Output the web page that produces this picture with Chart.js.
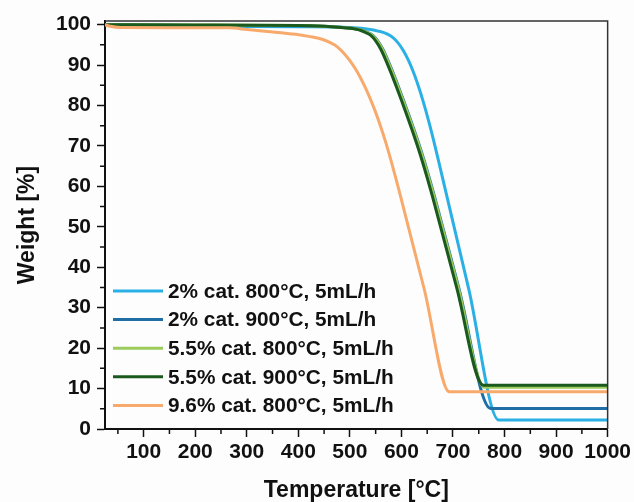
<!DOCTYPE html>
<html>
<head>
<meta charset="utf-8">
<script src="https://cdn.jsdelivr.net/npm/chart.js@4"></script>
<style>
    html, body { margin: 0; padding: 0; background: #fdfdfd; }
</style>
</head>
<body>
<canvas id="graficoTGA" width="634" height="502"></canvas>
<script>
// ------------ Dados ------------ //

var tempCat2_800 = [25, 200, 400, 500, 543, 553, 563, 573, 583, 593, 603, 613, 623, 633, 643, 653, 663, 673, 730.6, 789, 1000];
var pesoCat2_800 = [100, 99.6, 99.5, 99.3, 98.75, 98.45, 98.15, 97.65, 96.85, 95.55, 93.75, 91.35, 88.35, 84.75, 80.65, 76.05, 71.05, 65.75, 34.6, 2.2, 2.2];

var tempCat2_900 = [25, 200, 400, 504, 514, 524, 534, 544, 554, 564, 574, 584, 594, 604, 614, 624, 634, 644, 654, 664, 711, 773, 1000];
var pesoCat2_900 = [100, 99.8, 99.7, 99.1, 98.9, 98.6, 98.1, 97.4, 96.0, 93.9, 91.1, 88.0, 84.7, 81.3, 77.8, 74.2, 70.4, 66.4, 62.1, 57.6, 35.0, 5.1, 5.1];

var tempCat55_800 = [25, 200, 400, 503, 513, 523, 533, 543, 553, 563, 573, 583, 593, 603, 613, 623, 633, 643, 653, 663, 710, 761, 1000];
var pesoCat55_800 = [100, 99.9, 99.8, 99.1, 98.9, 98.6, 98.1, 97.4, 96.0, 93.9, 91.1, 88.0, 84.7, 81.3, 77.8, 74.2, 70.4, 66.4, 62.1, 57.6, 35.0, 10.3, 10.3];

var tempCat55_900 = [25, 200, 400, 500, 510, 520, 530, 540, 550, 560, 570, 580, 590, 600, 610, 620, 630, 640, 650, 660, 707, 759, 1000];
var pesoCat55_900 = [100, 99.9, 99.8, 99.1, 98.9, 98.6, 98.1, 97.4, 96.0, 93.9, 91.1, 88.0, 84.7, 81.3, 77.8, 74.2, 70.4, 66.4, 62.1, 57.6, 35.0, 10.8, 10.8];

var tempCat96_800 = [25, 35, 55, 150, 266, 300, 330, 395, 420, 446, 460, 470, 480, 490, 500, 510, 520, 530, 540, 550, 560, 570, 580, 590, 600, 644.4, 693, 1000];
var pesoCat96_800 = [100, 99.6, 99.3, 99.25, 99.2, 98.8, 98.4, 97.6, 97.1, 96.4, 95.7, 95.0, 94.0, 92.7, 91.1, 89.2, 87.0, 84.4, 81.5, 78.3, 74.7, 70.7, 66.3, 61.6, 56.7, 34.5, 9.2, 9.2];

var legendas = ['2% cat. 800°C, 5mL/h', '2% cat. 900°C, 5mL/h', '5.5% cat. 800°C, 5mL/h', '5.5% cat. 900°C, 5mL/h', '9.6% cat. 800°C, 5mL/h'];
var cores = ['#2bb0e6', '#1f6fa6', '#9dcb5c', '#1b5a1f', '#f7aa6c'];

var ticksX = [100, 200, 300, 400, 500, 600, 700, 800, 900, 1000];
var minorX = [50, 150, 250, 350, 450, 550, 650, 750, 850, 950];
var ticksY = [0, 10, 20, 30, 40, 50, 60, 70, 80, 90, 100];
var minorY = [5, 15, 25, 35, 45, 55, 65, 75, 85, 95];

// ------------ Montagem das séries ------------ //

function pares(xs, ys) {
    return xs.map(function (x, i) { return { x: x, y: ys[i] }; });
}

var series = [
    pares(tempCat2_800, pesoCat2_800),
    pares(tempCat2_900, pesoCat2_900),
    pares(tempCat55_800, pesoCat55_800),
    pares(tempCat55_900, pesoCat55_900),
    pares(tempCat96_800, pesoCat96_800)
];

var datasets = series.map(function (d, i) {
    return {
        label: legendas[i],
        data: d,
        borderColor: cores[i],
        backgroundColor: cores[i],
        borderWidth: 3,
        pointRadius: 0,
        cubicInterpolationMode: 'monotone',
        order: series.length - i
    };
});

var fonte = "'Liberation Sans', Arial, sans-serif";

// ------------ Plugins: moldura, ticks menores e legenda ------------ //

var molduraPlugin = {
    id: 'moldura',
    afterDraw: function (chart) {
        var ctx = chart.ctx, a = chart.chartArea;
        var sx = chart.scales.x, sy = chart.scales.y;
        ctx.save();
        ctx.strokeStyle = '#333';
        ctx.lineWidth = 1.5;
        ctx.beginPath();
        ctx.moveTo(a.left, a.top);
        ctx.lineTo(a.right, a.top);
        ctx.lineTo(a.right, a.bottom);
        ctx.stroke();
        ctx.strokeStyle = '#111';
        ctx.lineWidth = 1.5;
        ctx.beginPath();
        minorX.forEach(function (v) {
            var px = sx.getPixelForValue(v);
            ctx.moveTo(px, a.bottom);
            ctx.lineTo(px, a.bottom + 5);
        });
        minorY.forEach(function (v) {
            var py = sy.getPixelForValue(v);
            ctx.moveTo(a.left, py);
            ctx.lineTo(a.left - 5, py);
        });
        ctx.stroke();
        ctx.restore();
    }
};

var legendaPlugin = {
    id: 'legendaInterna',
    afterDatasetsDraw: function (chart) {
        var ctx = chart.ctx, a = chart.chartArea;
        var x0 = a.left + 8, y0 = a.bottom - 138, passo = 28.6;
        ctx.save();
        ctx.font = 'bold 20.8px ' + fonte;
        ctx.textBaseline = 'middle';
        ctx.fillStyle = '#111';
        chart.data.datasets.forEach(function (ds, i) {
            var y = y0 + i * passo;
            ctx.strokeStyle = ds.borderColor;
            ctx.lineWidth = 3;
            ctx.beginPath();
            ctx.moveTo(x0, y);
            ctx.lineTo(x0 + 50, y);
            ctx.stroke();
            ctx.fillText(ds.label, x0 + 55, y + 1);
        });
        ctx.restore();
    }
};

// ------------ Configuração do gráfico ------------ //

var ctxTGA = document.getElementById('graficoTGA').getContext('2d');
var graficoTGA = new Chart(ctxTGA, {
    type: 'line',
    data: { datasets: datasets },
    options: {
        responsive: false,
        animation: false,
        layout: { padding: { top: 21, right: 23, left: 0, bottom: 0 } },
        plugins: {
            legend: { display: false },
            tooltip: { enabled: false }
        },
        scales: {
            x: {
                type: 'linear',
                min: 25,
                max: 1000,
                afterBuildTicks: function (s) { s.ticks = ticksX.map(function (v) { return { value: v }; }); },
                afterFit: function (s) { s.height = 73; },
                ticks: {
                    color: '#111',
                    font: { family: fonte, size: 21, weight: 'bold' },
                    padding: 3,
                    maxRotation: 0,
                    autoSkip: false,
                    callback: function (v) { return String(v); }
                },
                grid: { drawOnChartArea: false, tickLength: 8, tickColor: '#111', tickWidth: 1.5 },
                border: { color: '#111', width: 2 },
                title: {
                    display: true,
                    text: 'Temperature [°C]',
                    color: '#111',
                    font: { family: fonte, size: 23, weight: 'bold' },
                    padding: { top: 0, bottom: -2 }
                }
            },
            y: {
                min: 0,
                max: 100.9,
                afterBuildTicks: function (s) { s.ticks = ticksY.map(function (v) { return { value: v }; }); },
                afterFit: function (s) { s.width = 105; },
                ticks: {
                    color: '#111',
                    font: { family: fonte, size: 21, weight: 'bold' },
                    padding: 6,
                    autoSkip: false,
                    callback: function (v) { return String(v); }
                },
                grid: { drawOnChartArea: false, tickLength: 8, tickColor: '#111', tickWidth: 1.5 },
                border: { color: '#111', width: 2 },
                title: {
                    display: true,
                    text: 'Weight [%]',
                    color: '#111',
                    font: { family: fonte, size: 23, weight: 'bold' },
                    padding: { top: 14, bottom: 0 }
                }
            }
        }
    },
    plugins: [molduraPlugin, legendaPlugin]
});
</script>
</body>
</html>
